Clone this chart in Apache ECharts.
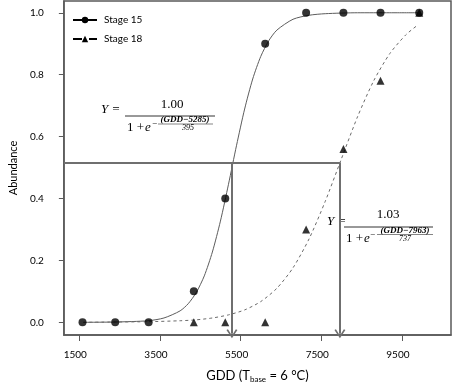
<!DOCTYPE html>
<html>
<head>
<meta charset="utf-8">
<script src="https://cdn.jsdelivr.net/npm/echarts@6/dist/echarts.min.js"></script>
<style>
html, body { margin: 0; padding: 0; background: #fff; }
#chart { width: 454px; height: 392px; }
</style>
</head>
<body>
<div id="chart"></div>
<script>
// sampling dates (GDD) and observed abundance
var gddObs = [1580, 2390, 3220, 4340, 5120, 6110, 7125, 8050, 8970, 9930];
var stage15Obs = [0, 0, 0, 0.1, 0.4, 0.9, 1.0, 1.0, 1.0, 1.0];
var stage18Obs = [null, null, null, 0, 0, 0, 0.30, 0.56, 0.78, 1.0];

// fitted curves
var fitX15 = [1600, 2400, 3200, 3600, 4000, 4200, 4400, 4600, 4800, 5000, 5200, 5400, 5600, 5800, 6000, 6200, 6400, 6800, 7200, 7600, 8400, 9200, 9900];
var fit15 = [0.000, 0.001, 0.005, 0.014, 0.037, 0.060, 0.096, 0.150, 0.227, 0.327, 0.446, 0.572, 0.689, 0.786, 0.859, 0.910, 0.944, 0.979, 0.992, 0.997, 1.000, 1.000, 1.000];
var fitX18 = [1600, 2400, 3200, 4000, 4400, 4800, 5200, 5600, 6000, 6400, 6800, 7200, 7600, 8000, 8400, 8800, 9200, 9600, 9900];
var fit18 = [0.000, 0.001, 0.002, 0.005, 0.008, 0.014, 0.024, 0.040, 0.067, 0.110, 0.176, 0.270, 0.391, 0.528, 0.664, 0.780, 0.868, 0.929, 0.961];

// 50% level and the two midpoints
var halfLevel = 0.516;
var midpoints = [5285, 7963];

var xTicks = [1500, 3500, 5500, 7500, 9500];
var yTicks = [0, 0.2, 0.4, 0.6, 0.8, 1.0];

var xMin = 1117, xMax = 10718;
var yMin = -0.041, yMax = 1.038;

function pairs(xs, ys) {
    var out = [];
    for (var i = 0; i < xs.length; i++) {
        out.push([xs[i], ys[i]]);
    }
    return out;
}

var chevron = 'path://M0,10 L5,0 L10,10 L8.6,10.8 L5,3.2 L1.4,10.8 Z';
var guideColor = '#6f6f6f';
var boxColor = '#5a5a5a';
var serif = '"Liberation Serif", "DejaVu Serif", serif';

var myChart = echarts.init(document.getElementById('chart'));

var option = {
    animation: false,
    textStyle: { fontFamily: 'Lato, sans-serif' },
    grid: {
        left: 57, right: 3, top: 1, bottom: 57,
        show: true,
        borderColor: boxColor,
        borderWidth: 1.5
    },
    legend: {
        data: [
            { name: 'Stage 15' },
            { name: 'Stage 18', lineStyle: { type: [9, 7] } }
        ],
        orient: 'vertical',
        left: 72,
        top: 15,
        padding: 0,
        itemWidth: 24,
        itemHeight: 8,
        itemGap: 9,
        textStyle: { fontSize: 10, color: '#000', fontFamily: 'Lato', padding: [0, 0, 0, 2] },
        lineStyle: { color: '#000', width: 2 }
    },
    xAxis: {
        type: 'value',
        min: xMin,
        max: xMax,
        splitLine: { show: false },
        axisLine: { show: true, onZero: false, lineStyle: { color: boxColor, width: 1.5 } },
        axisTick: { show: true, length: 6, customValues: xTicks, lineStyle: { color: boxColor } },
        axisLabel: {
            customValues: xTicks,
            margin: 15,
            fontSize: 10,
            color: '#000',
            padding: [0, 8, 0, 0],
            formatter: function (v) { return String(v); }
        },
        name: '{a|GDD (T}{s|base}{a| = 6 °C)}',
        nameLocation: 'middle',
        nameGap: 34,
        nameTextStyle: {
            rich: {
                a: { fontSize: 13, color: '#000', fontFamily: 'Lato' },
                s: { fontSize: 8, color: '#000', fontFamily: 'Lato', verticalAlign: 'bottom', padding: [6, 0, 0, 0] }
            }
        }
    },
    yAxis: {
        type: 'value',
        min: yMin,
        max: yMax,
        splitLine: { show: false },
        axisLine: { show: true, onZero: false, lineStyle: { color: boxColor, width: 1.5 } },
        axisTick: { show: true, length: 5, customValues: yTicks, lineStyle: { color: boxColor } },
        axisLabel: {
            customValues: yTicks,
            margin: 20,
            fontSize: 10,
            color: '#000',
            formatter: function (v) { return v.toFixed(1); }
        },
        name: 'Abundance',
        nameLocation: 'middle',
        nameGap: 39,
        nameTextStyle: { fontSize: 11, color: '#000', fontFamily: 'Lato' }
    },
    series: [
        {
            name: 'Stage 15',
            type: 'line',
            data: pairs(fitX15, fit15),
            smooth: 0.25,
            showSymbol: false,
            symbol: 'circle',
            symbolSize: 7,
            itemStyle: { color: '#000' },
            lineStyle: { color: '#5c5c5c', width: 1 },
            silent: true,
            z: 2
        },
        {
            name: 'Stage 18',
            type: 'line',
            data: pairs(fitX18, fit18),
            smooth: 0.25,
            showSymbol: false,
            symbol: 'triangle',
            symbolSize: 7,
            itemStyle: { color: '#000' },
            lineStyle: { color: '#6a6a6a', width: 1, type: [3, 3] },
            silent: true,
            z: 2
        },
        {
            name: 'guides',
            type: 'line',
            data: [],
            silent: true,
            markLine: {
                silent: true,
                animation: false,
                label: { show: false },
                lineStyle: { color: guideColor, width: 2, type: 'solid' },
                symbol: ['none', chevron],
                symbolSize: [11, 9],
                data: [
                    [{ coord: [xMin, halfLevel], symbol: 'none' }, { coord: [midpoints[1], halfLevel], symbol: 'none' }],
                    [{ coord: [midpoints[0], halfLevel], symbol: 'none' }, { coord: [midpoints[0], yMin + 0.004] }],
                    [{ coord: [midpoints[1], halfLevel], symbol: 'none' }, { coord: [midpoints[1], yMin + 0.004] }]
                ]
            },
            z: 3
        },
        {
            name: 'Stage 18 obs',
            type: 'scatter',
            data: pairs(gddObs, stage18Obs),
            symbol: 'triangle',
            symbolSize: 8,
            itemStyle: { color: '#000' },
            z: 4
        },
        {
            name: 'Stage 15 obs',
            type: 'scatter',
            data: pairs(gddObs, stage15Obs),
            symbol: 'circle',
            symbolSize: 8,
            itemStyle: { color: '#000' },
            z: 5
        }
    ],
    graphic: [
        // equation for stage 15
        { type: 'text', x: 101, y: 110, style: { text: 'Y =', font: 'italic 13px ' + serif, fill: '#000', verticalAlign: 'middle' } },
        { type: 'line', shape: { x1: 125, y1: 116, x2: 215, y2: 116 }, style: { stroke: '#333', lineWidth: 1 } },
        { type: 'text', x: 172, y: 105, style: { text: '1.00', font: '13px ' + serif, fill: '#000', align: 'center', verticalAlign: 'middle' } },
        { type: 'text', x: 127, y: 128, style: { text: '1 + ', font: '13px ' + serif, fill: '#000', verticalAlign: 'middle' } },
        { type: 'text', x: 145, y: 128, style: { text: 'e', font: 'italic 13px ' + serif, fill: '#000', verticalAlign: 'middle' } },
        { type: 'text', x: 152, y: 123.5, style: { text: '\u2212', font: '9px ' + serif, fill: '#000', verticalAlign: 'middle' } },
        { type: 'text', x: 185, y: 120, style: { text: '(GDD\u22125285)', font: 'italic bold 9px ' + serif, fill: '#000', align: 'center', verticalAlign: 'middle' } },
        { type: 'line', shape: { x1: 158, y1: 124, x2: 213, y2: 124 }, style: { stroke: '#333', lineWidth: 0.6 } },
        { type: 'text', x: 188, y: 128, style: { text: '395', font: 'italic 8px ' + serif, fill: '#000', align: 'center', verticalAlign: 'middle' } },
        // equation for stage 18
        { type: 'text', x: 327, y: 222, style: { text: 'Y =', font: 'italic 13px ' + serif, fill: '#000', verticalAlign: 'middle' } },
        { type: 'line', shape: { x1: 344, y1: 227, x2: 433, y2: 227 }, style: { stroke: '#333', lineWidth: 1 } },
        { type: 'text', x: 388, y: 215, style: { text: '1.03', font: '13px ' + serif, fill: '#000', align: 'center', verticalAlign: 'middle' } },
        { type: 'text', x: 346, y: 238.5, style: { text: '1 + ', font: '13px ' + serif, fill: '#000', verticalAlign: 'middle' } },
        { type: 'text', x: 364, y: 238.5, style: { text: 'e', font: 'italic 13px ' + serif, fill: '#000', verticalAlign: 'middle' } },
        { type: 'text', x: 370, y: 234.5, style: { text: '\u2212', font: '9px ' + serif, fill: '#000', verticalAlign: 'middle' } },
        { type: 'text', x: 405, y: 230.5, style: { text: '(GDD\u22127963)', font: 'italic bold 9px ' + serif, fill: '#000', align: 'center', verticalAlign: 'middle' } },
        { type: 'line', shape: { x1: 377, y1: 234.5, x2: 433, y2: 234.5 }, style: { stroke: '#333', lineWidth: 0.6 } },
        { type: 'text', x: 405, y: 238.5, style: { text: '737', font: 'italic 8px ' + serif, fill: '#000', align: 'center', verticalAlign: 'middle' } }
    ]
};

myChart.setOption(option);
</script>
</body>
</html>
